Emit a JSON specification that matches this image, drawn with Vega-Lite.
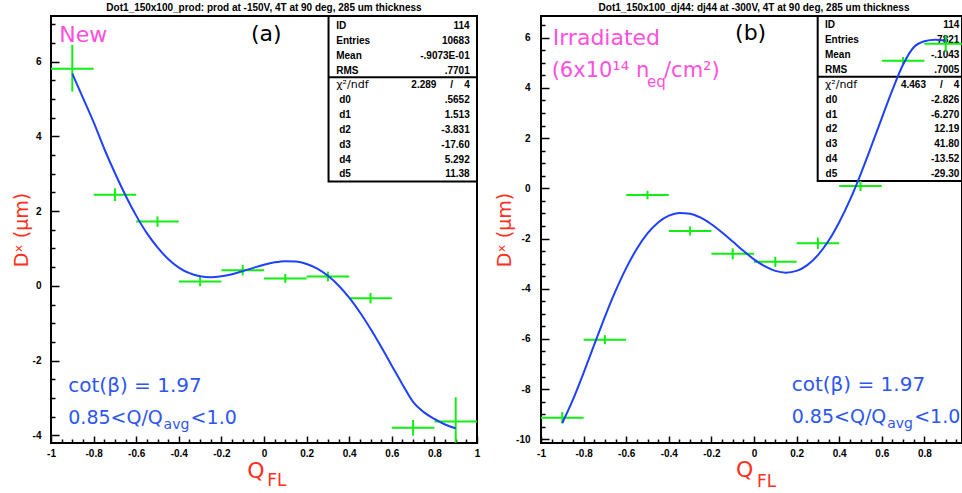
{
  "$schema": "https://vega.github.io/schema/vega-lite/v6.json",
  "autosize": "none",
  "padding": {"left": 51, "top": 16, "right": 911, "bottom": 477},
  "background": "white",
  "spacing": 64,
  "bounds": "flush",
  "datasets": {
    "left_pts": [
      {"q": -0.9, "qlo": -1.0, "qhi": -0.8, "d": 5.81, "dlo": 5.2, "dhi": 6.45},
      {"q": -0.7, "qlo": -0.8, "qhi": -0.6, "d": 2.44, "dlo": 2.27, "dhi": 2.61},
      {"q": -0.5, "qlo": -0.6, "qhi": -0.4, "d": 1.72, "dlo": 1.58, "dhi": 1.86},
      {"q": -0.3, "qlo": -0.4, "qhi": -0.2, "d": 0.12, "dlo": -0.01, "dhi": 0.25},
      {"q": -0.1, "qlo": -0.2, "qhi": 0.0, "d": 0.42, "dlo": 0.28, "dhi": 0.56},
      {"q": 0.1, "qlo": 0.0, "qhi": 0.2, "d": 0.2, "dlo": 0.08, "dhi": 0.32},
      {"q": 0.3, "qlo": 0.2, "qhi": 0.4, "d": 0.25, "dlo": 0.12, "dhi": 0.38},
      {"q": 0.5, "qlo": 0.4, "qhi": 0.6, "d": -0.33, "dlo": -0.47, "dhi": -0.19},
      {"q": 0.7, "qlo": 0.6, "qhi": 0.8, "d": -3.8, "dlo": -4.01, "dhi": -3.59},
      {"q": 0.9, "qlo": 0.8, "qhi": 1.0, "d": -3.63, "dlo": -4.2, "dhi": -2.98}
    ],
    "left_fit": [
      {"q": -0.9, "d": 5.68}, {"q": -0.85, "d": 5.03}, {"q": -0.8, "d": 4.38}, {"q": -0.75, "d": 3.67},
      {"q": -0.7, "d": 3.02}, {"q": -0.65, "d": 2.42}, {"q": -0.6, "d": 1.88}, {"q": -0.55, "d": 1.41},
      {"q": -0.5, "d": 1.03}, {"q": -0.45, "d": 0.72}, {"q": -0.4, "d": 0.49}, {"q": -0.35, "d": 0.34},
      {"q": -0.3, "d": 0.257}, {"q": -0.25, "d": 0.232}, {"q": -0.2, "d": 0.255}, {"q": -0.15, "d": 0.313},
      {"q": -0.1, "d": 0.394}, {"q": -0.05, "d": 0.482}, {"q": 0.0, "d": 0.565}, {"q": 0.05, "d": 0.629},
      {"q": 0.1, "d": 0.661}, {"q": 0.15, "d": 0.65}, {"q": 0.2, "d": 0.586}, {"q": 0.25, "d": 0.461},
      {"q": 0.3, "d": 0.269}, {"q": 0.35, "d": 0.01}, {"q": 0.4, "d": -0.317}, {"q": 0.45, "d": -0.707},
      {"q": 0.5, "d": -1.15}, {"q": 0.55, "d": -1.633}, {"q": 0.6, "d": -2.137}, {"q": 0.65, "d": -2.638},
      {"q": 0.7, "d": -3.106}, {"q": 0.75, "d": -3.38}, {"q": 0.8, "d": -3.56}, {"q": 0.85, "d": -3.71},
      {"q": 0.9, "d": -3.81}
    ],
    "right_pts": [
      {"q": -0.9, "qlo": -1.0, "qhi": -0.8, "d": -9.14, "dlo": -9.37, "dhi": -8.91},
      {"q": -0.7, "qlo": -0.8, "qhi": -0.6, "d": -6.03, "dlo": -6.21, "dhi": -5.85},
      {"q": -0.5, "qlo": -0.6, "qhi": -0.4, "d": -0.27, "dlo": -0.44, "dhi": -0.1},
      {"q": -0.3, "qlo": -0.4, "qhi": -0.2, "d": -1.7, "dlo": -1.88, "dhi": -1.52},
      {"q": -0.1, "qlo": -0.2, "qhi": 0.0, "d": -2.61, "dlo": -2.83, "dhi": -2.39},
      {"q": 0.1, "qlo": 0.0, "qhi": 0.2, "d": -2.93, "dlo": -3.13, "dhi": -2.73},
      {"q": 0.3, "qlo": 0.2, "qhi": 0.4, "d": -2.19, "dlo": -2.42, "dhi": -1.96},
      {"q": 0.5, "qlo": 0.4, "qhi": 0.6, "d": 0.09, "dlo": -0.11, "dhi": 0.29},
      {"q": 0.7, "qlo": 0.6, "qhi": 0.8, "d": 5.08, "dlo": 4.93, "dhi": 5.23},
      {"q": 0.9, "qlo": 0.8, "qhi": 1.0, "d": 5.76, "dlo": 5.43, "dhi": 6.09}
    ],
    "right_fit": [
      {"q": -0.9, "d": -9.35}, {"q": -0.85, "d": -8.42}, {"q": -0.8, "d": -7.35}, {"q": -0.75, "d": -6.23},
      {"q": -0.7, "d": -5.12}, {"q": -0.65, "d": -4.09}, {"q": -0.6, "d": -3.18}, {"q": -0.55, "d": -2.41},
      {"q": -0.5, "d": -1.8}, {"q": -0.45, "d": -1.36}, {"q": -0.4, "d": -1.09}, {"q": -0.35, "d": -0.98},
      {"q": -0.3, "d": -1.01}, {"q": -0.25, "d": -1.17}, {"q": -0.2, "d": -1.43}, {"q": -0.15, "d": -1.76},
      {"q": -0.1, "d": -2.12}, {"q": -0.05, "d": -2.49}, {"q": 0.0, "d": -2.83}, {"q": 0.05, "d": -3.1},
      {"q": 0.1, "d": -3.29}, {"q": 0.15, "d": -3.36}, {"q": 0.2, "d": -3.29}, {"q": 0.25, "d": -3.06},
      {"q": 0.3, "d": -2.66}, {"q": 0.35, "d": -2.09}, {"q": 0.4, "d": -1.35}, {"q": 0.45, "d": -0.47},
      {"q": 0.5, "d": 0.55}, {"q": 0.55, "d": 1.66}, {"q": 0.6, "d": 2.8}, {"q": 0.65, "d": 3.92},
      {"q": 0.7, "d": 4.93}, {"q": 0.75, "d": 5.62}, {"q": 0.8, "d": 5.86}, {"q": 0.85, "d": 5.92},
      {"q": 0.9, "d": 5.88}
    ]
  },
  "hconcat": [
    {
      "width": 426,
      "height": 427,
      "title": {"text": "Dot1_150x100_prod: prod at -150V, 4T at 90 deg, 285 um thickness"},
      "data": {"values": [{}]},
      "layer": [
        {
          "layer": [
            {"mark": {"type": "rect", "fill": "white", "stroke": "black", "strokeWidth": 2},
             "encoding": {"x": {"datum": 0.303}, "x2": {"datum": 1}, "y": {"datum": 7.223}, "y2": {"datum": 2.792}}},
            {"mark": {"type": "rule", "stroke": "black", "strokeWidth": 2},
             "encoding": {"x": {"datum": 0.303}, "x2": {"datum": 1}, "y": {"datum": 5.583}}},
            {"mark": {"type": "text", "text": ["ID", "Entries", "Mean", "RMS"], "font": "Liberation Sans", "fontWeight": "bold", "fontSize": 10, "align": "left", "baseline": "alphabetic", "lineHeight": 14.84, "color": "black"},
             "encoding": {"x": {"datum": 0.339}, "y": {"datum": 6.874}}},
            {"mark": {"type": "text", "text": "χ²/ndf", "font": "DejaVu Sans", "fontSize": 11, "align": "left", "baseline": "alphabetic", "color": "black"},
             "encoding": {"x": {"datum": 0.339}, "y": {"datum": 5.285}}},
            {"mark": {"type": "text", "text": ["d0", "d1", "d2", "d3", "d4", "d5"], "font": "Liberation Sans", "fontWeight": "bold", "fontSize": 10, "align": "left", "baseline": "alphabetic", "lineHeight": 14.84, "color": "black"},
             "encoding": {"x": {"datum": 0.353}, "y": {"datum": 4.888}}},
            {"mark": {"type": "text", "text": ["114", "10683", "-.9073E-01", ".7701", "2.289\u00a0\u00a0\u00a0\u00a0\u00a0/\u00a0\u00a0\u00a0\u00a04", ".5652", "1.513", "-3.831", "-17.60", "5.292", "11.38"], "font": "Liberation Sans", "fontWeight": "bold", "fontSize": 10, "align": "right", "baseline": "alphabetic", "lineHeight": 14.84, "color": "black"},
             "encoding": {"x": {"datum": 0.9657}, "y": {"datum": 6.874}}},
            {"data": {"name": "left_pts"},
             "mark": {"type": "rule", "stroke": "#11ee11", "strokeWidth": 2},
             "encoding": {
               "x": {"field": "qlo", "type": "quantitative", "scale": {"domain": [-1, 1], "nice": false, "zero": false},
                     "axis": {"orient": "bottom", "title": null, "values": [-1, -0.8, -0.6, -0.4, -0.2, 0, 0.2, 0.4, 0.6, 0.8, 1], "tickSize": -7, "labelPadding": 12, "labelFlush": false, "labelOverlap": false, "labelExpr": "'' + datum.value"}},
               "x2": {"field": "qhi"},
               "y": {"field": "d", "type": "quantitative", "scale": {"domain": [-4.206, 7.223], "nice": false, "zero": false},
                     "axis": {"orient": "left", "title": "Dˣ (μm)", "titleColor": "#ff3020", "titleFont": "DejaVu Sans", "titleFontSize": 19, "titleFontWeight": "normal", "titlePadding": 1, "values": [-4, -2, 0, 2, 4, 6], "tickSize": -8, "labelPadding": 18, "labelFlush": false, "labelOverlap": false, "labelExpr": "'' + datum.value"}}
             }},
            {"data": {"name": "left_pts"},
             "mark": {"type": "rule", "stroke": "#11ee11", "strokeWidth": 2},
             "encoding": {"x": {"field": "q", "type": "quantitative"}, "y": {"field": "dlo", "type": "quantitative"}, "y2": {"field": "dhi"}}},
            {"mark": {"type": "text", "text": "New", "font": "DejaVu Sans", "fontSize": 22, "align": "left", "baseline": "alphabetic", "color": "#ff4fdc"},
             "encoding": {"x": {"datum": -0.961}, "y": {"datum": 6.54}}},
            {"mark": {"type": "text", "text": "(a)", "font": "DejaVu Sans", "fontSize": 22, "align": "left", "baseline": "alphabetic", "color": "black"},
             "encoding": {"x": {"datum": -0.0616}, "y": {"datum": 6.55}}},
            {"mark": {"type": "text", "text": "cot(β) = 1.97", "font": "DejaVu Sans", "fontSize": 20, "align": "left", "baseline": "alphabetic", "color": "#2d56f0"},
             "encoding": {"x": {"datum": -0.919}, "y": {"datum": -2.83}}},
            {"mark": {"type": "text", "text": "0.85<Q/Q", "font": "DejaVu Sans", "fontSize": 19, "align": "left", "baseline": "alphabetic", "color": "#2d56f0"},
             "encoding": {"x": {"datum": -0.919}, "y": {"datum": -3.686}}},
            {"mark": {"type": "text", "text": "avg", "font": "DejaVu Sans", "fontSize": 14, "align": "left", "baseline": "alphabetic", "color": "#2d56f0"},
             "encoding": {"x": {"datum": -0.4713}, "y": {"datum": -3.82}}},
            {"mark": {"type": "text", "text": "<1.0", "font": "DejaVu Sans", "fontSize": 19, "align": "left", "baseline": "alphabetic", "color": "#2d56f0"},
             "encoding": {"x": {"datum": -0.3445}, "y": {"datum": -3.686}}},
            {"mark": {"type": "text", "text": "Q", "font": "DejaVu Sans", "fontSize": 22, "align": "left", "baseline": "alphabetic", "color": "#ff3020"},
             "encoding": {"x": {"datum": -0.079}, "y": {"datum": -5.13}}},
            {"mark": {"type": "text", "text": "FL", "font": "DejaVu Sans", "fontSize": 17, "align": "left", "baseline": "alphabetic", "color": "#ff3020"},
             "encoding": {"x": {"datum": 0.015}, "y": {"datum": -5.35}}}
          ]
        },
        {
          "data": {"name": "left_fit"},
          "mark": {"type": "line", "stroke": "#1e40ff", "strokeWidth": 2, "interpolate": "monotone"},
          "encoding": {
            "x": {"field": "q", "type": "quantitative", "scale": {"domain": [-1, 1], "nice": false, "zero": false},
                  "axis": {"orient": "bottom", "title": null, "labels": false, "tickSize": -4, "values": [-0.95, -0.9, -0.85, -0.75, -0.7, -0.65, -0.55, -0.5, -0.45, -0.35, -0.3, -0.25, -0.15, -0.1, -0.05, 0.05, 0.1, 0.15, 0.25, 0.3, 0.35, 0.45, 0.5, 0.55, 0.65, 0.7, 0.75, 0.85, 0.9, 0.95]}},
            "y": {"field": "d", "type": "quantitative", "scale": {"domain": [-4.206, 7.223], "nice": false, "zero": false},
                  "axis": {"orient": "left", "title": null, "labels": false, "tickSize": -4, "values": [-3.5, -3, -2.5, -1.5, -1, -0.5, 0.5, 1, 1.5, 2.5, 3, 3.5, 4.5, 5, 5.5, 6.5, 7]}}
          }
        }
      ],
      "resolve": {"axis": {"x": "independent", "y": "independent"}}
    },
    {
      "width": 421,
      "height": 427,
      "title": {"text": "Dot1_150x100_dj44: dj44 at -300V, 4T at 90 deg, 285 um thickness", "dx": 2.5},
      "data": {"values": [{}]},
      "layer": [
        {
          "layer": [
            {"mark": {"type": "rect", "fill": "white", "stroke": "black", "strokeWidth": 2},
             "encoding": {"x": {"datum": 0.299}, "x2": {"datum": 0.9765}, "y": {"datum": 6.865}, "y2": {"datum": 0.291}}},
            {"mark": {"type": "rule", "stroke": "black", "strokeWidth": 2},
             "encoding": {"x": {"datum": 0.299}, "x2": {"datum": 0.9765}, "y": {"datum": 4.446}}},
            {"mark": {"type": "text", "text": ["ID", "Entries", "Mean", "RMS"], "font": "Liberation Sans", "fontWeight": "bold", "fontSize": 10, "align": "left", "baseline": "alphabetic", "lineHeight": 14.84, "color": "black"},
             "encoding": {"x": {"datum": 0.333}, "y": {"datum": 6.367}}},
            {"mark": {"type": "text", "text": "χ²/ndf", "font": "DejaVu Sans", "fontSize": 11, "align": "left", "baseline": "alphabetic", "color": "black"},
             "encoding": {"x": {"datum": 0.333}, "y": {"datum": 4.002}}},
            {"mark": {"type": "text", "text": ["d0", "d1", "d2", "d3", "d4", "d5"], "font": "Liberation Sans", "fontWeight": "bold", "fontSize": 10, "align": "left", "baseline": "alphabetic", "lineHeight": 14.84, "color": "black"},
             "encoding": {"x": {"datum": 0.336}, "y": {"datum": 3.41}}},
            {"mark": {"type": "text", "text": ["114", "7821", "-.1043", ".7005", "4.463\u00a0\u00a0\u00a0\u00a0\u00a0/\u00a0\u00a0\u00a0\u00a04", "-2.826", "-6.270", "12.19", "41.80", "-13.52", "-29.30"], "font": "Liberation Sans", "fontWeight": "bold", "fontSize": 10, "align": "right", "baseline": "alphabetic", "lineHeight": 14.84, "color": "black"},
             "encoding": {"x": {"datum": 0.964}, "y": {"datum": 6.367}}},
            {"data": {"name": "right_pts"},
             "mark": {"type": "rule", "stroke": "#11ee11", "strokeWidth": 2},
             "encoding": {
               "x": {"field": "qlo", "type": "quantitative", "scale": {"domain": [-1, 0.9765], "nice": false, "zero": false},
                     "axis": {"orient": "bottom", "title": null, "values": [-1, -0.8, -0.6, -0.4, -0.2, 0, 0.2, 0.4, 0.6, 0.8], "tickSize": -7, "labelPadding": 12, "labelFlush": false, "labelOverlap": false, "labelExpr": "'' + datum.value"}},
               "x2": {"field": "qhi"},
               "y": {"field": "d", "type": "quantitative", "scale": {"domain": [-10.147, 6.865], "nice": false, "zero": false},
                     "axis": {"orient": "left", "title": "Dˣ (μm)", "titleColor": "#ff3020", "titleFont": "DejaVu Sans", "titleFontSize": 19, "titleFontWeight": "normal", "titlePadding": 1, "values": [-10, -8, -6, -4, -2, 0, 2, 4, 6], "tickSize": -8, "labelPadding": 19, "labelFlush": false, "labelOverlap": false, "labelExpr": "'' + datum.value"}}
             }},
            {"data": {"name": "right_pts"},
             "mark": {"type": "rule", "stroke": "#11ee11", "strokeWidth": 2},
             "encoding": {"x": {"field": "q", "type": "quantitative"}, "y": {"field": "dlo", "type": "quantitative"}, "y2": {"field": "dhi"}}},
            {"mark": {"type": "text", "text": "Irradiated", "font": "DejaVu Sans", "fontSize": 22, "align": "left", "baseline": "alphabetic", "color": "#ff4fdc"},
             "encoding": {"x": {"datum": -0.945}, "y": {"datum": 5.71}}},
            {"mark": {"type": "text", "text": "(6x10¹⁴", "font": "DejaVu Sans", "fontSize": 21, "align": "left", "baseline": "alphabetic", "color": "#ff4fdc"},
             "encoding": {"x": {"datum": -0.95}, "y": {"datum": 4.434}}},
            {"mark": {"type": "text", "text": "n", "font": "DejaVu Sans", "fontSize": 21, "align": "left", "baseline": "alphabetic", "color": "#ff4fdc"},
             "encoding": {"x": {"datum": -0.554}, "y": {"datum": 4.434}}},
            {"mark": {"type": "text", "text": "eq", "font": "DejaVu Sans", "fontSize": 15, "align": "left", "baseline": "alphabetic", "color": "#ff4fdc"},
             "encoding": {"x": {"datum": -0.502}, "y": {"datum": 4.036}}},
            {"mark": {"type": "text", "text": "/cm²)", "font": "DejaVu Sans", "fontSize": 21, "align": "left", "baseline": "alphabetic", "color": "#ff4fdc"},
             "encoding": {"x": {"datum": -0.4225}, "y": {"datum": 4.434}}},
            {"mark": {"type": "text", "text": "(b)", "font": "DejaVu Sans", "fontSize": 22, "align": "left", "baseline": "alphabetic", "color": "black"},
             "encoding": {"x": {"datum": -0.089}, "y": {"datum": 5.89}}},
            {"mark": {"type": "text", "text": "cot(β) = 1.97", "font": "DejaVu Sans", "fontSize": 20, "align": "left", "baseline": "alphabetic", "color": "#2d56f0"},
             "encoding": {"x": {"datum": 0.177}, "y": {"datum": -8.076}}},
            {"mark": {"type": "text", "text": "0.85<Q/Q", "font": "DejaVu Sans", "fontSize": 19, "align": "left", "baseline": "alphabetic", "color": "#2d56f0"},
             "encoding": {"x": {"datum": 0.177}, "y": {"datum": -9.35}}},
            {"mark": {"type": "text", "text": "avg", "font": "DejaVu Sans", "fontSize": 14, "align": "left", "baseline": "alphabetic", "color": "#2d56f0"},
             "encoding": {"x": {"datum": 0.6254}, "y": {"datum": -9.55}}},
            {"mark": {"type": "text", "text": "<1.0", "font": "DejaVu Sans", "fontSize": 19, "align": "left", "baseline": "alphabetic", "color": "#2d56f0"},
             "encoding": {"x": {"datum": 0.7521}, "y": {"datum": -9.35}}},
            {"mark": {"type": "text", "text": "Q", "font": "DejaVu Sans", "fontSize": 22, "align": "left", "baseline": "alphabetic", "color": "#ff3020"},
             "encoding": {"x": {"datum": -0.0845}, "y": {"datum": -11.49}}},
            {"mark": {"type": "text", "text": "FL", "font": "DejaVu Sans", "fontSize": 17, "align": "left", "baseline": "alphabetic", "color": "#ff3020"},
             "encoding": {"x": {"datum": 0.014}, "y": {"datum": -11.89}}}
          ]
        },
        {
          "data": {"name": "right_fit"},
          "mark": {"type": "line", "stroke": "#1e40ff", "strokeWidth": 2, "interpolate": "monotone"},
          "encoding": {
            "x": {"field": "q", "type": "quantitative", "scale": {"domain": [-1, 0.9765], "nice": false, "zero": false},
                  "axis": {"orient": "bottom", "title": null, "labels": false, "tickSize": -4, "values": [-0.95, -0.9, -0.85, -0.75, -0.7, -0.65, -0.55, -0.5, -0.45, -0.35, -0.3, -0.25, -0.15, -0.1, -0.05, 0.05, 0.1, 0.15, 0.25, 0.3, 0.35, 0.45, 0.5, 0.55, 0.65, 0.7, 0.75, 0.85, 0.9, 0.95]}},
            "y": {"field": "d", "type": "quantitative", "scale": {"domain": [-10.147, 6.865], "nice": false, "zero": false},
                  "axis": {"orient": "left", "title": null, "labels": false, "tickSize": -4, "values": [-9.5, -9, -8.5, -7.5, -7, -6.5, -5.5, -5, -4.5, -3.5, -3, -2.5, -1.5, -1, -0.5, 0.5, 1, 1.5, 2.5, 3, 3.5, 4.5, 5, 5.5, 6.5]}}
          }
        }
      ],
      "resolve": {"axis": {"x": "independent", "y": "independent"}}
    }
  ],
  "config": {
    "view": {"stroke": "black", "strokeWidth": 2},
    "axis": {"grid": false, "domain": false, "labelFont": "Liberation Sans", "labelFontSize": 10, "labelFontWeight": "bold", "labelColor": "black", "tickColor": "black", "tickWidth": 1.5},
    "title": {"font": "Liberation Sans", "fontSize": 10, "fontWeight": "bold", "color": "black", "offset": 2}
  }
}
